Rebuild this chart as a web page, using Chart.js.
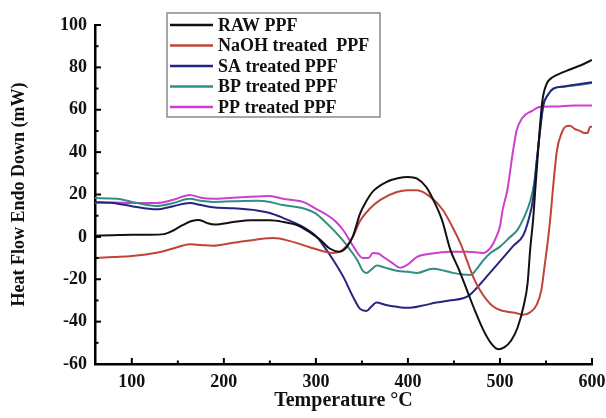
<!DOCTYPE html>
<html>
<head>
<meta charset="utf-8">
<script src="https://cdn.jsdelivr.net/npm/chart.js@4/dist/chart.umd.min.js"></script>
<style>
  html, body { margin: 0; padding: 0; background: #ffffff; }
  #wrap { width: 606px; height: 418px; }
</style>
</head>
<body>
<div id="wrap"><canvas id="c" width="606" height="418"></canvas></div>
<script>
// ---- data ----
const seriesLabels = ['RAW PPF', 'NaOH treated  PPF', 'SA treated PPF', 'BP treated PPF', 'PP treated PPF'];
const seriesColors = ['#111111', '#c0443a', '#25257f', '#2f8f80', '#cc3fd0'];

const rawT = [60,80,100,120,135,145,155,165,173,182,190,210,230,250,265,280,294,305,315,325,333,340,348,355,362,377,390,400,410,420,427,437,446,455,464,473,482,490,498,505,512,519,526,530,533,536,538,542,546,551,556,562,576,588,600];
const rawV = [0.5,0.8,1,1,1.3,3,5.5,7.5,8,6.5,5.8,7,7.8,7.8,7,5.5,2,-1.5,-5.5,-7,-5,0,11,17,21.5,26,27.8,28.3,27.5,23.5,18,8,-6,-15,-25,-35,-44,-50,-53,-52,-49,-43,-32,-22,-5,8,20,44,64,72.5,75,76.5,79,81,83.5];

const naohT = [60,80,100,127,145,163,175,188,210,236,254,272,294,310,318,326,333,340,348,359,370,388,400,410,424,438,448,457,464,471,478,486,493,500,510,518,525,533,540,545,549,552,555,557,562,567,571,576,581,587,592,595,598,600];
const naohV = [-10,-9.5,-9,-7.5,-5.5,-3.5,-3.8,-4.2,-2.8,-1.2,-0.5,-2,-5,-7,-7.6,-7,-4.5,0,7.5,13.5,17.5,21.2,22,22,19,12.7,5,-3,-11,-19,-25,-30,-33,-34.5,-35.5,-36,-36.8,-35.5,-32,-25,-12,-2,10,20,41,49,52,52.5,51,50,49,49,52,52];

const saT = [60,80,100,127,145,163,175,188,210,236,250,264,286,301,308,319,330,340,348,355,360,366,375,388,400,415,431,445,460,467,474,485,495,503,515,525,531,536,540,544,547,552,558,570,585,600];
const saV = [16.5,16,14.5,13,14.5,16,15,14,13.5,12.5,11.3,9,4.7,0,-4,-11,-19,-28,-34,-35,-33,-31,-32,-33,-33.5,-32.5,-31,-30,-29,-27.5,-24.5,-19,-14,-10,-4,0.5,8,18,36,52,62,67,70,71,72,73];

const bpT = [60,84,100,127,145,163,175,188,210,236,250,264,286,300,308,319,330,337,345,351,355,360,366,375,388,400,410,427,440,449,460,468,475,482,490,500,510,519,527,533,537,540,544,547,552,558,570,585,600];
const bpV = [18.3,18,16.5,14.6,16,18,17,16.5,16.8,17,16.5,15,13.5,11,8,3.3,-2,-6,-11,-16,-17,-15.5,-13.5,-14.5,-16,-16.5,-17,-15,-16,-17,-17.8,-18,-15,-11,-7.5,-4.6,-0.5,3.3,10,17,25,36,52,62,67,70,71,71.7,72.6];

const ppT = [60,80,100,127,145,163,175,188,210,236,250,264,286,301,315,322,330,341,351,357,362,368,373,382,392,400,410,424,446,465,482,490,496,500,503,508,514,518,524,535,544,560,580,600];
const ppV = [16,16.2,16,16,17.5,19.8,18.5,18,18.5,19,19.3,18,16.5,13,9.5,7,3,-4.7,-10,-10,-7.6,-7.8,-9.4,-12,-14.6,-13,-9.4,-8,-7,-7,-7.6,-5,0,5,13,22,40,50,56,59.5,61.4,61.5,62,62];

const xMajorTicks = [100, 200, 300, 400, 500, 600];
const xMinorTicks = [150, 250, 350, 450, 550];
const yMajorTicks = [-60, -40, -20, 0, 20, 40, 60, 80, 100];
const yMinorTicks = [-50, -30, -10, 10, 30, 50, 70, 90];

const xTitle = 'Temperature °C';
const yTitle = 'Heat Flow Endo Down (mW)';

// ---- build datasets ----
const allT = [rawT, naohT, saT, bpT, ppT];
const allV = [rawV, naohV, saV, bpV, ppV];
function pts(t, v) { return t.map((x, i) => ({ x: x, y: v[i] })); }

const datasets = seriesLabels.map((lab, i) => ({
  label: lab,
  data: pts(allT[i], allV[i]),
  borderColor: seriesColors[i],
  backgroundColor: seriesColors[i],
  borderWidth: 2,
  pointRadius: 0,
  fill: false,
  cubicInterpolationMode: 'monotone'
}));

const SERIF = '"Liberation Serif", "Times New Roman", serif';

const tickPlugin = {
  id: 'inwardTicks',
  afterDraw(chart) {
    const ctx = chart.ctx;
    const xs = chart.scales.x, ys = chart.scales.y;
    const a = chart.chartArea;
    ctx.save();
    ctx.strokeStyle = '#000';
    ctx.lineWidth = 2;
    xMajorTicks.forEach(v => { const p = xs.getPixelForValue(v); ctx.beginPath(); ctx.moveTo(p, a.bottom); ctx.lineTo(p, a.bottom - 6); ctx.stroke(); });
    xMinorTicks.forEach(v => { const p = xs.getPixelForValue(v); ctx.beginPath(); ctx.moveTo(p, a.bottom); ctx.lineTo(p, a.bottom - 3.5); ctx.stroke(); });
    yMajorTicks.forEach(v => { const p = ys.getPixelForValue(v); ctx.beginPath(); ctx.moveTo(a.left, p); ctx.lineTo(a.left + 6, p); ctx.stroke(); });
    yMinorTicks.forEach(v => { const p = ys.getPixelForValue(v); ctx.beginPath(); ctx.moveTo(a.left, p); ctx.lineTo(a.left + 3.5, p); ctx.stroke(); });
    ctx.restore();
  }
};

const legendPlugin = {
  id: 'boxLegend',
  afterDraw(chart) {
    const ctx = chart.ctx;
    const bx = 167, by = 13, bw = 213, bh = 104;
    ctx.save();
    ctx.fillStyle = '#ffffff';
    ctx.fillRect(bx, by, bw, bh);
    ctx.strokeStyle = '#8a8a8a';
    ctx.lineWidth = 1.5;
    ctx.strokeRect(bx, by, bw, bh);
    ctx.font = 'bold 18px ' + SERIF;
    ctx.textBaseline = 'middle';
    ctx.textAlign = 'left';
    chart.data.datasets.forEach((ds, i) => {
      const y = 25 + i * 20.5;
      ctx.strokeStyle = ds.borderColor;
      ctx.lineWidth = 2.5;
      ctx.beginPath(); ctx.moveTo(170, y); ctx.lineTo(213, y); ctx.stroke();
      ctx.fillStyle = '#111';
      ctx.fillText(ds.label, 218, y + 1);
    });
    ctx.restore();
  }
};

new Chart(document.getElementById('c'), {
  type: 'line',
  data: { datasets: datasets },
  options: {
    responsive: false,
    animation: false,
    layout: { padding: { left: 0, right: 0, top: 25, bottom: 0 } },
    plugins: { legend: { display: false }, tooltip: { enabled: false } },
    scales: {
      x: {
        type: 'linear',
        min: 60, max: 600,
        afterBuildTicks: s => { s.ticks = xMajorTicks.map(v => ({ value: v })); },
        afterFit: s => { s.height = 54; s.paddingRight = 14; },
        grid: { display: false, drawTicks: false },
        border: { display: true, color: '#000', width: 2.5 },
        ticks: { color: '#111', font: { family: SERIF, size: 18, weight: 'bold' }, padding: 8, maxRotation: 0, autoSkip: false },
        title: { display: true, text: xTitle, color: '#111', font: { family: SERIF, size: 20, weight: 'bold' }, padding: { top: 0, bottom: 5 } }
      },
      y: {
        type: 'linear',
        min: -60, max: 100,
        afterBuildTicks: s => { s.ticks = yMajorTicks.map(v => ({ value: v })); },
        afterFit: s => { s.width = 95; },
        grid: { display: false, drawTicks: false },
        border: { display: true, color: '#000', width: 2.5 },
        ticks: { color: '#111', font: { family: SERIF, size: 18, weight: 'bold' }, padding: 8, autoSkip: false },
        title: { display: true, text: yTitle, color: '#111', font: { family: SERIF, size: 18, weight: 'bold' }, padding: { top: 9, bottom: 0 } }
      }
    }
  },
  plugins: [tickPlugin, legendPlugin]
});
</script>
</body>
</html>
